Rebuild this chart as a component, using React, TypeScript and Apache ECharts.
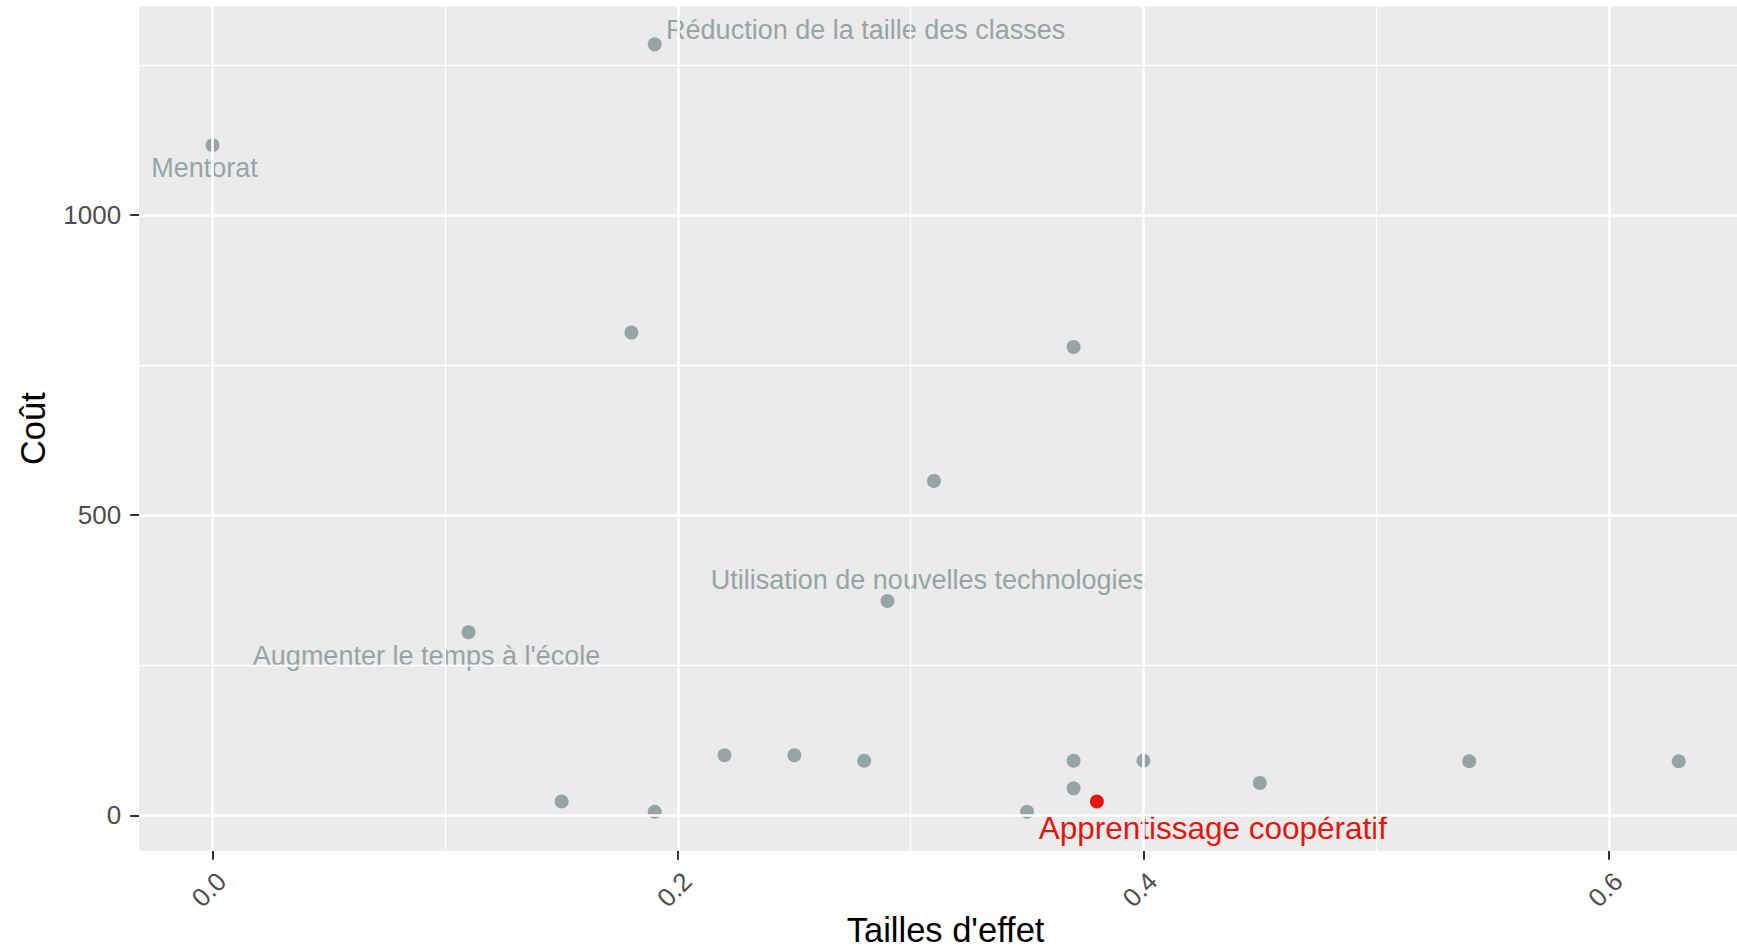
import React, { useEffect, useRef } from "react";
import * as echarts from "echarts";

const names: string[] = [
  "Mentorat",
  "Réduction de la taille des classes",
  "",
  "",
  "",
  "Utilisation de nouvelles technologies",
  "Augmenter le temps à l'école",
  "",
  "",
  "",
  "",
  "",
  "",
  "",
  "",
  "Apprentissage coopératif",
  "",
  "",
  "",
  "",
];
const effectSizes: number[] = [0, 0.19, 0.18, 0.37, 0.31, 0.29, 0.11, 0.15, 0.19, 0.22, 0.25, 0.28, 0.37, 0.37, 0.35, 0.38, 0.4, 0.45, 0.54, 0.63];
const costs: number[] = [1116, 1284, 804, 780, 557, 357, 305, 23, 6, 100, 100, 91, 91, 45, 6, 23, 91, 54, 90, 90];
const highlighted = "Apprentissage coopératif";

const xTicks: number[] = [0, 0.2, 0.4, 0.6];
const xMinor: number[] = [0.1, 0.3, 0.5];
const yTicks: number[] = [0, 500, 1000];
const yMinor: number[] = [250, 750, 1250];
const xTitle = "Tailles d'effet";
const yTitle = "Coût";

const FONT = "Liberation Sans";
const GREY = "#95A5A6";
const RED = "#E3170E";

const labelOffsets: Record<string, [number, number]> = {
  "Mentorat": [-8, 23],
  "Réduction de la taille des classes": [211, -14],
  "Utilisation de nouvelles technologies": [41, -21],
  "Augmenter le temps à l'école": [-42, 24],
  "Apprentissage coopératif": [116, 26],
};

export default function App() {
  const ref = useRef<HTMLDivElement>(null);
  useEffect(() => {
    if (!ref.current) return;
    const chart = echarts.init(ref.current, undefined, { renderer: "svg" });

    const greyData: any[] = [];
    const redData: any[] = [];
    effectSizes.forEach((x, i) => {
      const name = names[i];
      const isRed = name === highlighted;
      const item: any = { value: [x, costs[i]], name };
      if (name) {
        item.label = {
          show: true,
          formatter: name,
          position: "inside",
          align: "center",
          verticalAlign: "middle",
          offset: labelOffsets[name] || [0, 0],
          color: isRed ? RED : GREY,
          fontSize: isRed ? 31.5 : 27,
          fontFamily: FONT,
        };
      }
      (isRed ? redData : greyData).push(item);
    });

    const major = { color: "#FFFFFF", width: 2.6, type: "solid" };
    const minor = { color: "#FFFFFF", width: 1.3, type: "solid" };

    const gridLines = [
      ...xMinor.map((v) => ({ xAxis: v, lineStyle: minor })),
      ...yMinor.map((v) => ({ yAxis: v, lineStyle: minor })),
      ...xTicks.map((v) => ({ xAxis: v, lineStyle: major })),
      ...yTicks.map((v) => ({ yAxis: v, lineStyle: major })),
    ];

    chart.setOption({
      animation: false,
      backgroundColor: "#FFFFFF",
      textStyle: { fontFamily: FONT },
      grid: {
        left: 139.2,
        right: -15,
        top: 6.6,
        bottom: 98.3,
        show: true,
        backgroundColor: "#EBEBEB",
        borderWidth: 0,
        containLabel: false,
        outerBoundsMode: "none",
      },
      xAxis: {
        type: "value",
        min: -0.0315,
        max: 0.6615,
        name: xTitle,
        nameLocation: "middle",
        nameGap: 65,
        nameMoveOverlap: false,
        nameTextStyle: { color: "#000000", fontSize: 34.5, lineHeight: 28, fontFamily: FONT },
        axisLine: { show: false, onZero: false },
        axisTick: {
          show: true,
          length: 9,
          lineStyle: { color: "#333333", width: 2 },
          customValues: xTicks,
        },
        axisLabel: {
          show: true,
          rotate: 45,
          margin: 17,
          verticalAlign: "top",
          color: "#4D4D4D",
          fontSize: 26,
          fontFamily: FONT,
          customValues: xTicks,
          formatter: (v: number) => v.toFixed(1),
        },
        splitLine: { show: false },
        minorSplitLine: { show: false },
      },
      yAxis: {
        type: "value",
        min: -58.9,
        max: 1346.9,
        name: yTitle,
        nameLocation: "middle",
        nameGap: 89,
        nameRotate: 90,
        nameMoveOverlap: false,
        nameTextStyle: { color: "#000000", fontSize: 34.5, fontFamily: FONT },
        axisLine: { show: false, onZero: false },
        axisTick: {
          show: true,
          length: 9,
          lineStyle: { color: "#333333", width: 2 },
          customValues: yTicks,
        },
        axisLabel: {
          show: true,
          margin: 18,
          color: "#4D4D4D",
          fontSize: 26,
          fontFamily: FONT,
          customValues: yTicks,
          formatter: (v: number) => String(v),
        },
        splitLine: { show: false },
        minorSplitLine: { show: false },
      },
      series: [
        {
          type: "scatter",
          data: [],
          z: 1,
          silent: true,
          markLine: {
            silent: true,
            symbol: ["none", "none"],
            label: { show: false },
            emphasis: { disabled: true },
            animation: false,
            data: gridLines,
          },
        },
        {
          type: "scatter",
          z: 3,
          symbolSize: 14,
          itemStyle: { color: GREY, opacity: 1 },
          data: greyData,
          silent: true,
        },
        {
          type: "scatter",
          z: 4,
          symbolSize: 14,
          itemStyle: { color: RED, opacity: 1 },
          data: redData,
          silent: true,
        },
      ],
    });
    return () => chart.dispose();
  }, []);

  return (
    <div
      ref={ref}
      style={{ position: "fixed", left: 0, top: 0, width: "1737px", height: "949px" }}
    />
  );
}
